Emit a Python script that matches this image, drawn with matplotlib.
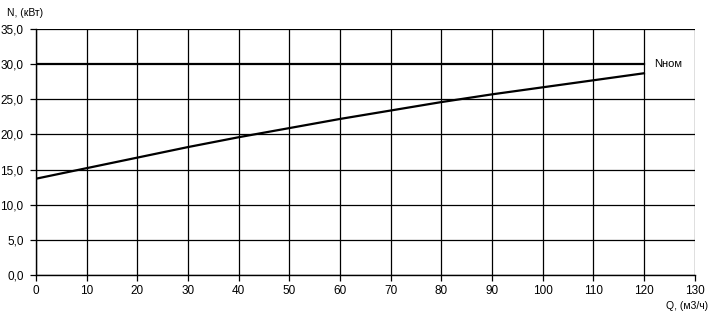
import matplotlib.pyplot as plt
from matplotlib.ticker import FuncFormatter

plt.rcParams['font.family'] = ['Liberation Sans', 'DejaVu Sans']

q = [0, 10, 20, 30, 40, 50, 60, 70, 80, 90, 100, 110, 120]
n = [13.7, 15.2, 16.7, 18.2, 19.6, 20.9, 22.2, 23.4, 24.6, 25.7, 26.7, 27.7, 28.7]
q_nom = [0, 120]
n_nom = [30.0, 30.0]

fig = plt.figure(figsize=(7.12, 3.15), dpi=100)
ax = fig.add_axes([0.0506, 0.127, 0.925, 0.781])

ax.plot(q, n, color='black', linewidth=1.6)
ax.plot(q_nom, n_nom, color='black', linewidth=1.6)
ax.text(122, 30.0, 'Nном', fontsize=8, va='center', ha='left')

ax.set_xlim(0, 130)
ax.set_ylim(0, 35)
ax.set_xticks(range(0, 131, 10))
ax.set_yticks([0, 5, 10, 15, 20, 25, 30, 35])
ax.yaxis.set_major_formatter(FuncFormatter(lambda v, p: f'{v:.1f}'.replace('.', ',')))
ax.grid(True, color='black', linewidth=0.9)
# no grid line at 30 — the nominal line takes its place
ax.yaxis.get_gridlines()[6].set_visible(False)
ax.tick_params(labelsize=8.5, direction='out', length=4, width=0.9, colors='black', pad=3)
ax.tick_params(axis='y', pad=5)

for side in ['top', 'right']:
    ax.spines[side].set_visible(False)
for side in ['left', 'bottom']:
    ax.spines[side].set_linewidth(1.0)

fig.text(0.01, 0.96, 'N, (кВт)', fontsize=7.5, va='center', ha='left')
fig.text(0.995, 0.028, 'Q, (м3/ч)', fontsize=7.5, va='center', ha='right')

fig.savefig('out.png', dpi=100)
